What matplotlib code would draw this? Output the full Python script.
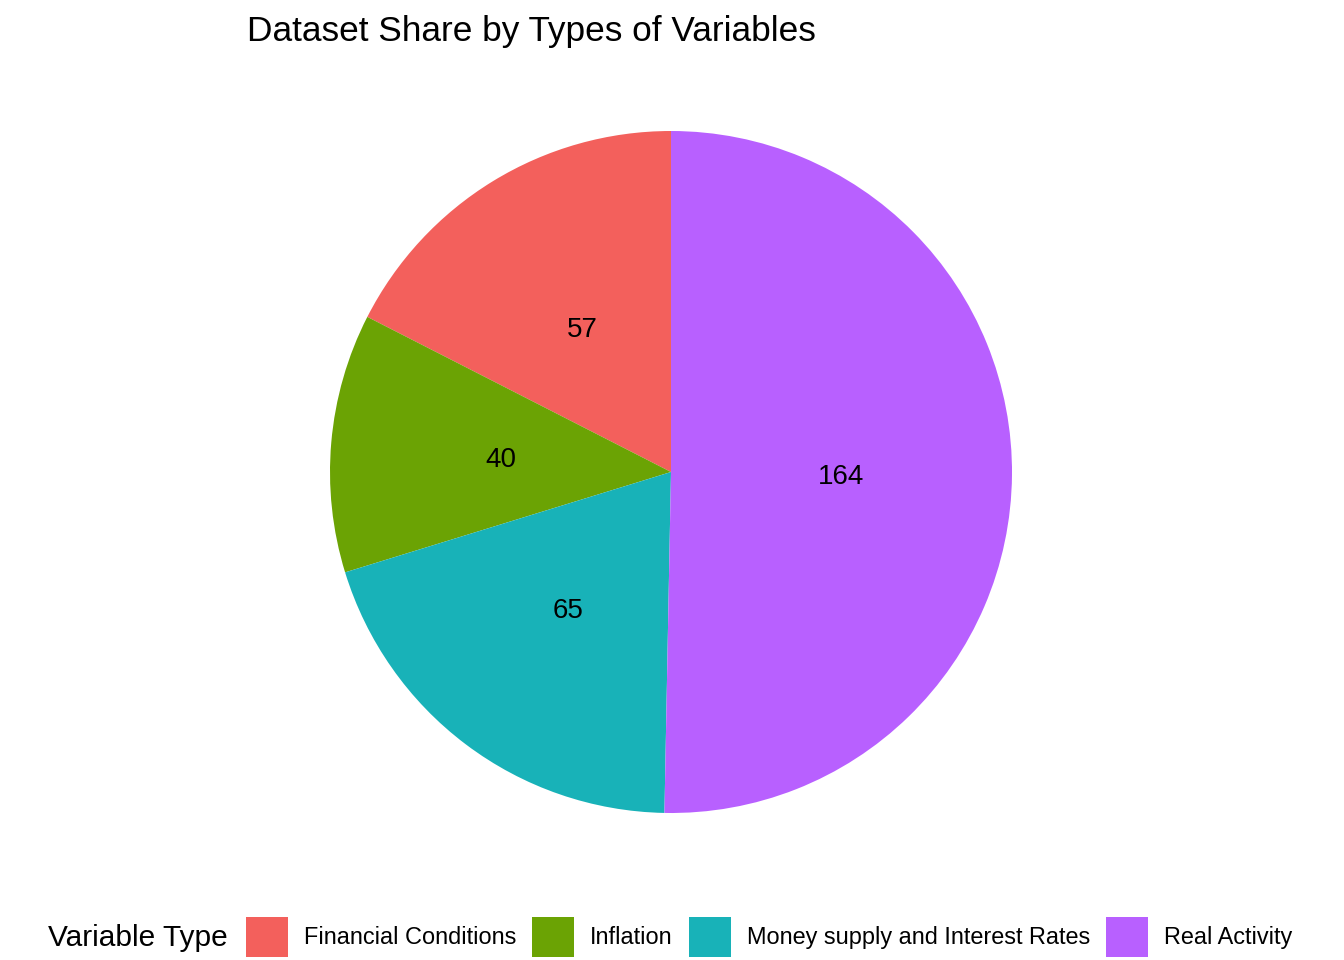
import matplotlib.pyplot as plt
from matplotlib.patches import Patch

plt.rcParams['font.family'] = ['Liberation Sans', 'DejaVu Sans']

# Data
categories = ['Financial Conditions', 'Inflation', 'Money supply and Interest Rates', 'Real Activity']
counts = [57, 40, 65, 164]
colors = ['#F3605C', '#6BA304', '#18B2B8', '#B860FF']

fig = plt.figure(figsize=(13.44, 9.6), dpi=100)

# Pie area: center (671, 472) px, radius 341 px
W, H = 1344, 960
cx, cy, r = 671, 472, 341
ax = fig.add_axes([(cx - r) / W, (H - cy - r) / H, 2 * r / W, 2 * r / H])
wedges, texts = ax.pie(counts, colors=colors, startangle=90, counterclock=True,
                       labels=[str(c) for c in counts], labeldistance=0.5,
                       radius=1, textprops=dict(fontsize=20, color='black'))
for t in texts:
    t.set_horizontalalignment('center')
    t.set_verticalalignment('center_baseline')
ax.set_xlim(-1, 1)
ax.set_ylim(-1, 1)
ax.set_aspect('equal')
ax.axis('off')

# Title
fig.text(247 / W, 1 - 31 / H, 'Dataset Share by Types of Variables',
         fontsize=25.4, ha='left', va='center')

# Legend at the bottom
fig.text(48 / W, 1 - 938 / H, 'Variable Type', fontsize=21.5, ha='left', va='center')
handles = [Patch(facecolor=c, edgecolor='none') for c in colors]
fig.legend(handles, categories, loc='center left',
           bbox_to_anchor=(246 / W, 1 - 937 / H), ncol=4, frameon=False,
           fontsize=16.9, handlelength=1.79, handleheight=2.25,
           handletextpad=0.68, columnspacing=0.68, borderpad=0, borderaxespad=0)

fig.savefig('out.png', dpi=100)
